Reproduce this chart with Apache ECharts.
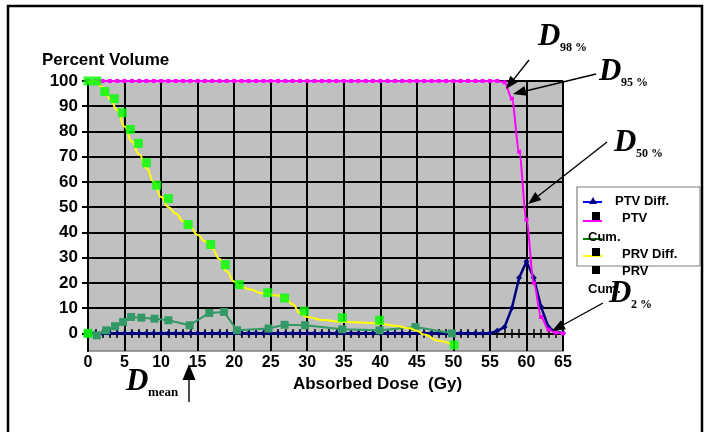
<!DOCTYPE html>
<html>
<head>
<meta charset="utf-8">
<script src="https://cdn.jsdelivr.net/npm/echarts@6/dist/echarts.min.js"></script>
<style>
html,body{margin:0;padding:0;background:#fff;}
#chart{width:709px;height:432px;}
</style>
</head>
<body>
<div id="chart"></div>
<script>
// ---- data ----
const xTickLabels = [0,5,10,15,20,25,30,35,40,45,50,55,60,65];
const yTickLabels = [0,10,20,30,40,50,60,70,80,90,100];

// PTV differential (dose 0..65 Gy, step 1)
const ptvDiffX = [0,1,2,3,4,5,6,7,8,9,10,11,12,13,14,15,16,17,18,19,20,21,22,23,24,25,26,27,28,29,30,31,32,33,34,35,36,37,38,39,40,41,42,43,44,45,46,47,48,49,50,51,52,53,54,55,56,57,58,59,60,61,62,63,64,65];
const ptvDiffY = [0,0,0,0,0,0,0,0,0,0,0,0,0,0,0,0,0,0,0,0,0,0,0,0,0,0,0,0,0,0,0,0,0,0,0,0,0,0,0,0,0,0,0,0,0,0,0,0,0,0,0,0,0,0,0,0,1,2.5,10,22,28.5,22,10.5,2.5,0.5,0];

// PTV cumulative
const ptvCumX = [0,1,2,3,4,5,6,7,8,9,10,11,12,13,14,15,16,17,18,19,20,21,22,23,24,25,26,27,28,29,30,31,32,33,34,35,36,37,38,39,40,41,42,43,44,45,46,47,48,49,50,51,52,53,54,55,56,57,58,59,60,61,62,63,64,65];
const ptvCumY = [100,100,100,100,100,100,100,100,100,100,100,100,100,100,100,100,100,100,100,100,100,100,100,100,100,100,100,100,100,100,100,100,100,100,100,100,100,100,100,100,100,100,100,100,100,100,100,100,100,100,100,100,100,100,100,100,100,99.5,93,72,45,20,6.5,1.5,0.3,0];

// PRV differential
const prvDiffX = [0,1.2,2.5,3.7,4.8,5.9,7.3,9.1,11,13.9,16.6,18.6,20.4,24.7,26.9,29.7,34.8,39.9,44.8,49.8];
const prvDiffY = [0,-0.8,1.2,2.8,4.5,6.5,6.2,5.8,5.2,3.2,8.1,8.5,1.2,1.9,3.4,3.2,1.6,1.2,2.5,0];

// PRV cumulative (smoothed curve)
const prvCumX = [0,1,2,3,4,5,6,7,8,9,10,11,12,13,14,15,16,17,18,19,20,21,22,24,26,27,28,29,30,32,35,38,40,42,44,45,46,48,50];
const prvCumY = [99.5,100,97.5,93,88.5,82,76,71,65.5,60,54,50,47.5,44.5,42,39,36.5,33.5,29.5,24.5,20.5,18.5,17.5,15.8,15,14.2,11.5,8,6.5,5.3,4.5,4.2,3.8,3,2,1,-0.5,-3,-4.8];

// PRV cumulative markers (green squares)
const prvCumMarkX = [0,0,1.2,2.3,3.6,4.7,5.8,6.9,8.0,9.4,11,13.7,16.8,18.8,20.7,24.6,26.9,29.6,34.8,39.9,50.1];
const prvCumMarkY = [0,100,100,95.8,93,87.4,80.8,75.3,67.6,58.7,53.4,43.1,35.2,27.2,19.3,16.1,14,8.8,6.2,5.2,-4.6];

const seriesNames = ['PTV Diff.','PTV Cum.','PRV Diff.','PRV Cum.'];

function pairs(xs, ys){ return xs.map((x,i)=>[x, ys[i]]); }

function arrow(x1,y1,x2,y2,len,w){
  const dx=x2-x1, dy=y2-y1, L=Math.hypot(dx,dy), ux=dx/L, uy=dy/L;
  const bx=x2-ux*len, by=y2-uy*len, px=-uy*w/2, py=ux*w/2;
  return [
    {type:'line', shape:{x1:x1,y1:y1,x2:bx,y2:by}, style:{stroke:'#000',lineWidth:1.4}, z:100},
    {type:'polygon', shape:{points:[[x2,y2],[bx+px,by+py],[bx-px,by-py]]}, style:{fill:'#000'}, z:100}
  ];
}
const serifD = 'italic bold 31px "Liberation Serif", "DejaVu Serif", serif';
const serifSub = 'bold 12px "Liberation Serif", "DejaVu Serif", serif';
function dLabel(x, y, sub, subFont){
  return [
    {type:'text', x:x, y:y, style:{text:'D', font:serifD, fill:'#000', verticalAlign:'middle', align:'left'}, z:100},
    {type:'text', x:x+22, y:y+11, style:{text:sub, font:subFont||serifSub, fill:'#000', verticalAlign:'middle', align:'left'}, z:100}
  ];
}
const legFont = 'bold 13px "Liberation Sans", Arial, sans-serif';

const graphics = [].concat(
  [{type:'rect', shape:{x:8,y:6,width:694,height:520}, style:{fill:'none', stroke:'#000', lineWidth:2.5}, z:0}],
  dLabel(538, 37, '98 %'),
  arrow(529,60,506,89,13,10),
  dLabel(599, 72, '95 %'),
  arrow(596,74,513,94,13,10),
  dLabel(614, 143, '50 %'),
  arrow(607,142,528,204,13,10),
  dLabel(609, 294, '2 %'),
  arrow(603,303,552,331,13,10),
  dLabel(126, 382, 'mean', 'bold 13px "Liberation Serif", "DejaVu Serif", serif'),
  arrow(189,402,189,364,16,13),
  [
    {type:'rect', shape:{x:577,y:187,width:123,height:79}, style:{fill:'#fff', stroke:'#808080', lineWidth:1.2}, z:90},
    {type:'line', shape:{x1:583,y1:202,x2:602,y2:202}, style:{stroke:'#0000ff',lineWidth:2}, z:91},
    {type:'polygon', shape:{points:[[593,197],[589,204],[597,204]]}, style:{fill:'#000080'}, z:92},
    {type:'text', x:615, y:201, style:{text:seriesNames[0], font:legFont, fill:'#000', verticalAlign:'middle'}, z:92},
    {type:'line', shape:{x1:583,y1:221,x2:602,y2:221}, style:{stroke:'#ff00ff',lineWidth:2}, z:91},
    {type:'rect', shape:{x:592,y:212,width:8,height:8}, style:{fill:'#000'}, z:92},
    {type:'text', x:622, y:218, style:{text:'PTV', font:legFont, fill:'#000', verticalAlign:'middle'}, z:92},
    {type:'line', shape:{x1:583,y1:239,x2:602,y2:239}, style:{stroke:'#008000',lineWidth:2}, z:91},
    {type:'text', x:588, y:237, style:{text:'Cum.', font:legFont, fill:'#000', verticalAlign:'middle'}, z:92},
    {type:'line', shape:{x1:583,y1:256,x2:602,y2:256}, style:{stroke:'#ffff00',lineWidth:2}, z:91},
    {type:'rect', shape:{x:592,y:248,width:8,height:8}, style:{fill:'#000'}, z:92},
    {type:'text', x:622, y:254, style:{text:'PRV Diff.', font:legFont, fill:'#000', verticalAlign:'middle'}, z:92},
    {type:'rect', shape:{x:592,y:266,width:8,height:8}, style:{fill:'#000'}, z:92},
    {type:'text', x:622, y:271, style:{text:'PRV', font:legFont, fill:'#000', verticalAlign:'middle'}, z:92},
    {type:'text', x:588, y:289, style:{text:'Cum.', font:legFont, fill:'#000', verticalAlign:'middle'}, z:92}
  ]
);

const chart = echarts.init(document.getElementById('chart'));
const axisFont = {fontFamily:'"Liberation Sans", Arial, sans-serif', fontWeight:'bold', fontSize:16, color:'#000'};
chart.setOption({
  animation:false,
  backgroundColor:'#fff',
  title:{text:'Percent Volume', left:42, top:52, padding:0,
    textStyle:{fontFamily:'"Liberation Sans", Arial, sans-serif', fontWeight:'bold', fontSize:17, color:'#000'}},
  grid:{left:88, top:81, width:475, height:270, show:true, backgroundColor:'#c0c0c0', borderColor:'#808080', borderWidth:1.5, containLabel:false},
  xAxis:[
    {type:'value', min:0, max:65, interval:5, position:'bottom',
     axisLine:{show:false, onZero:false}, axisTick:{show:false},
     axisLabel:Object.assign({margin:4, customValues:xTickLabels}, axisFont),
     splitLine:{show:true, lineStyle:{color:'#000', width:2}},
     name:'Absorbed Dose  (Gy)', nameLocation:'middle', nameGap:24,
     nameTextStyle:Object.assign({padding:[0,0,0,104]}, axisFont, {fontSize:17})},
    {type:'value', min:0, max:65, interval:1, position:'bottom', offset:-13,
     axisLine:{show:false, onZero:false}, axisLabel:{show:false}, splitLine:{show:false},
     axisTick:{show:true, inside:true, length:9, lineStyle:{color:'#000', width:1.5}}}
  ],
  yAxis:{type:'value', min:-7, max:100,
    axisLine:{show:true, lineStyle:{color:'#000', width:2}},
    axisTick:{show:true, length:6, customValues:yTickLabels, lineStyle:{color:'#000', width:2}},
    axisLabel:Object.assign({margin:10, customValues:yTickLabels}, axisFont, {fontSize:17}),
    splitLine:{show:true, lineStyle:{color:'#000', width:2}}},
  legend:{show:false, data:seriesNames},
  graphic:graphics,
  series:[
    {name:seriesNames[0], type:'line', xAxisIndex:0, data:pairs(ptvDiffX, ptvDiffY),
     lineStyle:{color:'#000080', width:2.5}, itemStyle:{color:'#000080'},
     symbol:'diamond', symbolSize:6, z:2},
    {name:seriesNames[1], type:'line', xAxisIndex:0, data:pairs(ptvCumX, ptvCumY),
     smooth:0.3, smoothMonotone:'x',
     lineStyle:{color:'#ff00ff', width:2}, itemStyle:{color:'#ff00ff'},
     symbol:'rect', symbolSize:[4,4], z:3},
    {name:seriesNames[2], type:'line', xAxisIndex:0, data:pairs(prvDiffX, prvDiffY),
     lineStyle:{color:'#339966', width:2}, itemStyle:{color:'#339966'},
     symbol:'rect', symbolSize:8, z:4},
    {name:seriesNames[3], type:'line', xAxisIndex:0, data:pairs(prvCumX, prvCumY),
     smooth:0.5, smoothMonotone:'x', showSymbol:false,
     lineStyle:{color:'#ffff00', width:2}, itemStyle:{color:'#ffff00'}, z:5},
    {name:'PRV Cum. markers', type:'scatter', xAxisIndex:0, data:pairs(prvCumMarkX, prvCumMarkY),
     symbol:'rect', symbolSize:9, itemStyle:{color:'#00ff00'}, z:6}
  ]
});
</script>
</body>
</html>
